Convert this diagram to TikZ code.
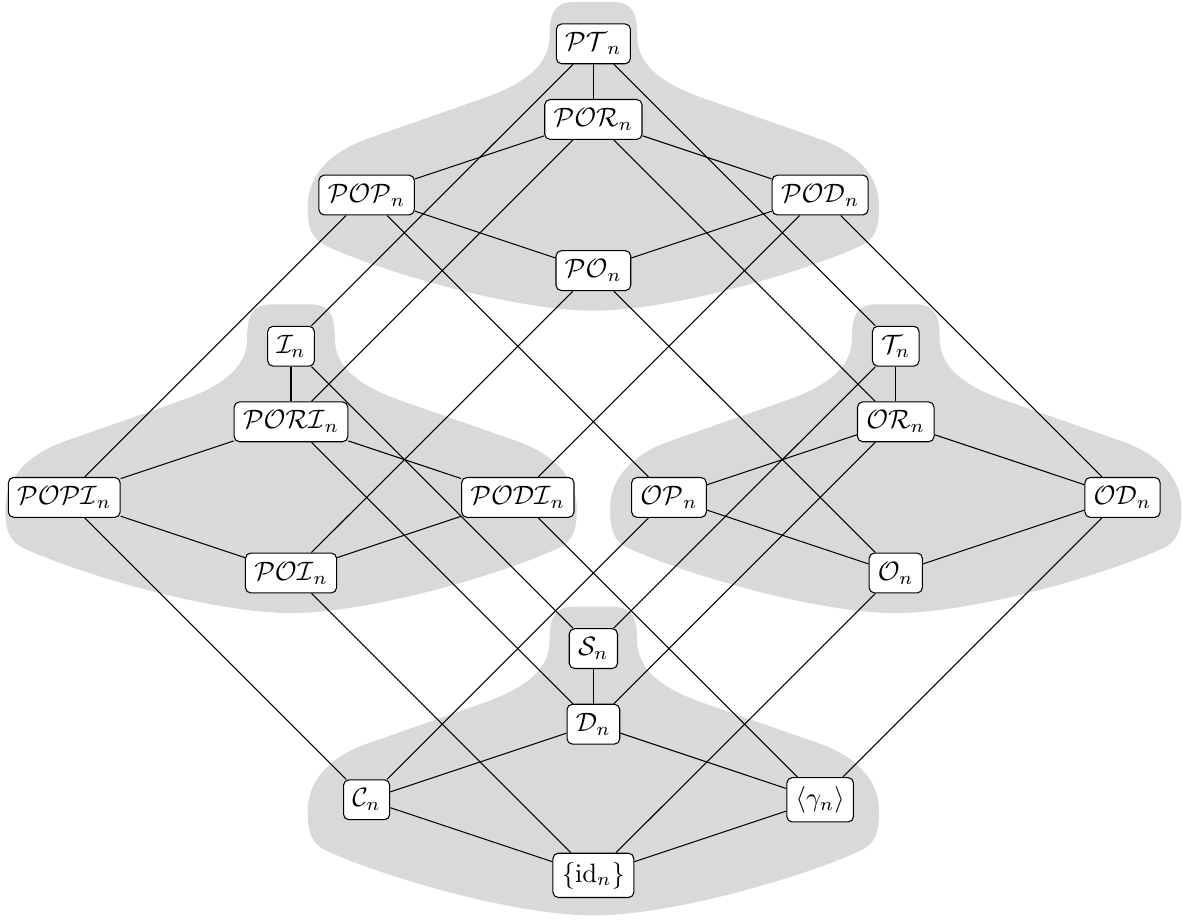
\documentclass[tikz,border=0pt]{standalone}
\tikzset{
  grp/.style={fill=gray!30},
  lbl/.style={draw, fill=white, rounded corners=2pt}
}
\begin{document}
\begin{tikzpicture}
    \useasboundingbox (-7.85,0.58) rectangle (7.80,-11.59);
    % grey regions
    \foreach \x/\y in {0/0,-4/-4,4/-4,0/-8}
      \fill[grp, shift={(\x,\y)}] (0,0.555) -- (-0.25,0.555) .. controls (-0.52,0.555) and (-0.58,0.4) .. (-0.58,0.1)
        .. controls (-0.58,-0.3) and (-0.95,-0.55) .. (-1.5,-0.735) -- (-3.0,-1.26)
        .. controls (-3.45,-1.42) and (-3.78,-1.72) .. (-3.78,-2.15) .. controls (-3.78,-2.45) and (-3.72,-2.59) .. (-3.52,-2.68)
        .. controls (-2.7,-3.05) and (-1,-3.53) .. (0,-3.53) .. controls (1,-3.53) and (2.7,-3.05) .. (3.52,-2.68)
        .. controls (3.72,-2.59) and (3.78,-2.45) .. (3.78,-2.15) .. controls (3.78,-1.72) and (3.45,-1.42) .. (3.0,-1.26)
        -- (1.5,-0.735) .. controls (0.95,-0.55) and (0.58,-0.3) .. (0.58,0.1)
        .. controls (0.58,0.4) and (0.52,0.555) .. (0.25,0.555) -- cycle;
    % top
    \node[lbl] (PT) at (0,0) {$\mathcal{PT}_n$};
    \node[lbl] (POR) at (0,-1) {$\mathcal{POR}_n$};
    \node[lbl] (POP) at (-3,-2) {$\mathcal{POP}_n$};
    \node[lbl] (POD) at (3,-2) {$\mathcal{POD}_n$};
    \node[lbl] (PO) at (0,-3) {$\mathcal{PO}_n$};
    % left
    \node[lbl] (I) at (-4,-4) {$\mathcal{I}_n$};
    \node[lbl] (PORI) at (-4,-5) {$\mathcal{PORI}_n$};
    \node[lbl] (POPI) at (-7,-6) {$\mathcal{POPI}_n$};
    \node[lbl] (PODI) at (-1,-6) {$\mathcal{PODI}_n$};
    \node[lbl] (POI) at (-4,-7) {$\mathcal{POI}_n$};
    % right
    \node[lbl] (T) at (4,-4) {$\mathcal{T}_n$};
    \node[lbl] (OR) at (4,-5) {$\mathcal{OR}_n$};
    \node[lbl] (OP) at (1,-6) {$\mathcal{OP}_n$};
    \node[lbl] (OD) at (7,-6) {$\mathcal{OD}_n$};
    \node[lbl] (O) at (4,-7) {$\mathcal{O}_n$};
    % bottom
    \node[lbl] (S) at (0,-8) {$\mathcal{S}_n$};
    \node[lbl] (D) at (0,-9) {$\mathcal{D}_n$};
    \node[lbl] (C) at (-3,-10) {$\mathcal{C}_n$};
    \node[lbl] (G) at (3,-10) {$\langle\gamma_n\rangle$};
    \node[lbl] (id) at (0,-11) {$\{\mathrm{id}_n\}$};
    % inside the regions
    \draw (PT) -- (POR);
    \draw (POR) -- (POP) -- (PO) -- (POD) -- (POR);
    \draw (I) -- (PORI);
    \draw (PORI) -- (POPI) -- (POI) -- (PODI) -- (PORI);
    \draw (T) -- (OR);
    \draw (OR) -- (OP) -- (O) -- (OD) -- (OR);
    \draw (S) -- (D);
    \draw (D) -- (C) -- (id) -- (G) -- (D);
    % between the regions
    \draw (PT) -- (I) -- (S) -- (T) -- (PT);
    \draw (POR) -- (PORI) -- (D) -- (OR) -- (POR);
    \draw (POP) -- (POPI) -- (C) -- (OP) -- (POP);
    \draw (POD) -- (PODI) -- (G) -- (OD) -- (POD);
    \draw (PO) -- (POI) -- (id) -- (O) -- (PO);
  \end{tikzpicture}
\end{document}
